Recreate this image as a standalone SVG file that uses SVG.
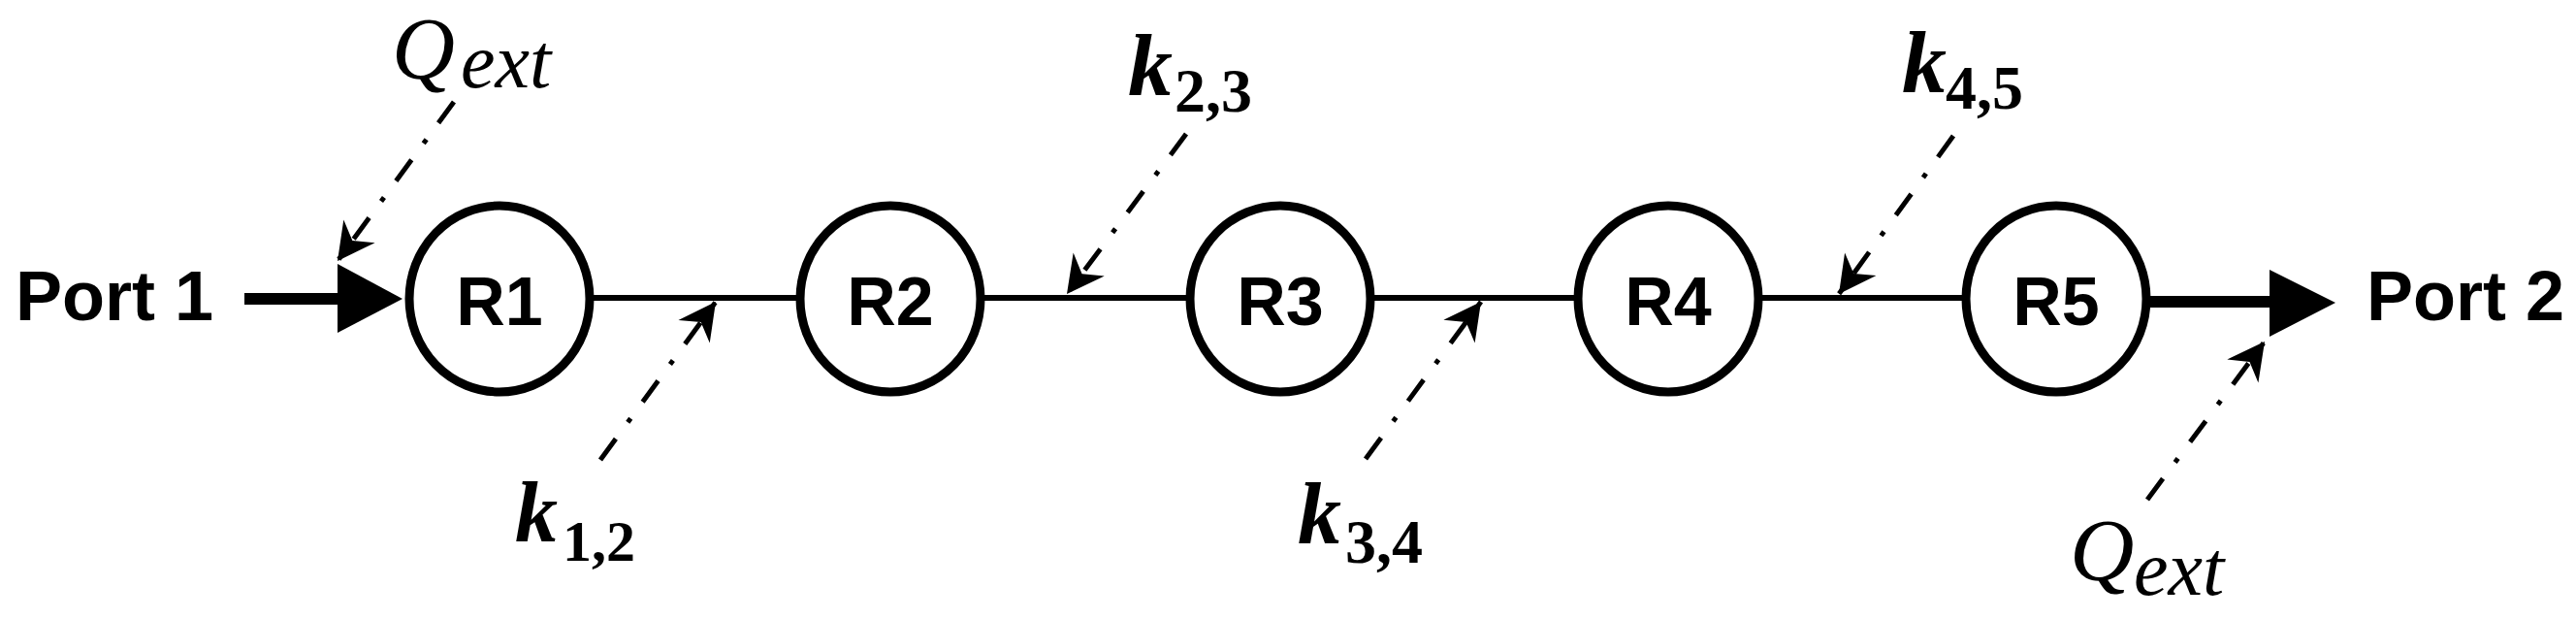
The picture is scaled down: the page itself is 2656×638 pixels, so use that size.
<svg xmlns="http://www.w3.org/2000/svg" width="2656" height="638" viewBox="0 0 2656 638">
<style>
.res ellipse{fill:#fff;stroke:#000;stroke-width:9}
.res text,.port{font-family:"Liberation Sans",Arial,sans-serif;font-weight:bold;fill:#000}
.res text{font-size:70px;text-anchor:middle}
.port{font-size:72px}
.thin{stroke:#000;stroke-width:6;fill:none}
.thick{stroke:#000;stroke-width:12;fill:none}
.dd{stroke:#000;stroke-width:5;fill:none;stroke-dasharray:27 21 5 21;marker-end:url(#barb)}
.math{font-family:"Liberation Serif","Times New Roman",serif;fill:#000}
.it{font-style:italic}
.b{font-weight:bold}
</style>
<defs>
<marker id="barb" markerUnits="userSpaceOnUse" viewBox="-40 -22 42 44" markerWidth="42" markerHeight="44" refX="0" refY="0" orient="auto">
<path d="M0,0 L-38,-20 L-26,0 L-38,20 Z" fill="#000"/>
</marker>
</defs>
<rect width="2656" height="638" fill="#fff"/>
<g id="connectors">
<line class="thick" x1="252" y1="308" x2="352" y2="308"/>
<polygon points="348,272 415,308 348,343" fill="#000"/>
<line class="thin" x1="610" y1="307" x2="824" y2="307"/>
<line class="thin" x1="1014" y1="307" x2="1226" y2="307"/>
<line class="thin" x1="1414" y1="307" x2="1626" y2="307"/>
<line class="thin" x1="1814" y1="307" x2="2026" y2="307"/>
<line class="thick" x1="2214" y1="311" x2="2344" y2="311"/>
<polygon points="2340,278 2408,312 2340,347" fill="#000"/>
<line class="dd" x1="468" y1="105" x2="348" y2="269"/>
<line class="dd" x1="619" y1="474" x2="738" y2="311"/>
<line class="dd" x1="1223" y1="138" x2="1100" y2="303"/>
<line class="dd" x1="1408" y1="473" x2="1527" y2="311"/>
<line class="dd" x1="2014" y1="140" x2="1896" y2="303"/>
<line class="dd" x1="2214" y1="515" x2="2335" y2="352"/>
</g>
<g id="port1"><text class="port" x="16" y="330">Port 1</text></g>
<g id="port2"><text class="port" x="2440" y="330">Port 2</text></g>
<g id="R1" class="res"><ellipse cx="515" cy="308" rx="93" ry="96"/><text x="515" y="335">R1</text></g>
<g id="R2" class="res"><ellipse cx="918" cy="308" rx="93" ry="96"/><text x="918" y="335">R2</text></g>
<g id="R3" class="res"><ellipse cx="1320" cy="308" rx="93" ry="96"/><text x="1320" y="335">R3</text></g>
<g id="R4" class="res"><ellipse cx="1720" cy="308" rx="93" ry="96"/><text x="1720" y="335">R4</text></g>
<g id="R5" class="res"><ellipse cx="2120" cy="308" rx="93" ry="96"/><text x="2120" y="335">R5</text></g>
<g id="label-qext-1"><text class="math it" x="404" y="81" font-size="90">Q</text><text class="math it" x="475" y="90" font-size="80">ext</text></g>
<g id="label-k12"><text class="math it b" x="531" y="558" font-size="88">k</text><text class="math b" x="580" y="578" font-size="60">1,2</text></g>
<g id="label-k23"><text class="math it b" x="1163" y="98" font-size="92">k</text><text class="math b" x="1211" y="115" font-size="64">2,3</text></g>
<g id="label-k34"><text class="math it b" x="1338" y="560" font-size="90">k</text><text class="math b" x="1387" y="580" font-size="64">3,4</text></g>
<g id="label-k45"><text class="math it b" x="1961" y="95" font-size="92">k</text><text class="math b" x="2006" y="112" font-size="64">4,5</text></g>
<g id="label-qext-2"><text class="math it" x="2134" y="598" font-size="92">Q</text><text class="math it" x="2200" y="613" font-size="80">ext</text></g>
</svg>
